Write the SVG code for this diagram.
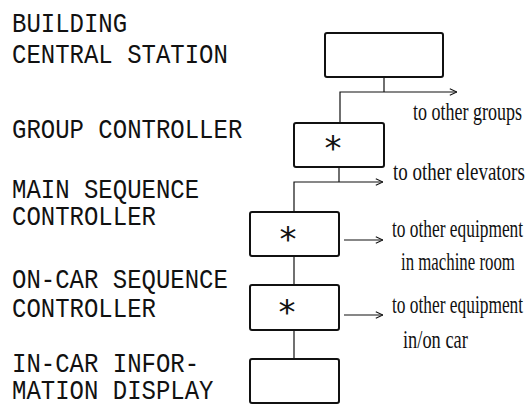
<svg xmlns="http://www.w3.org/2000/svg" width="526" height="405" viewBox="0 0 526 405">
<style>
.lbl{font-family:"Liberation Mono","DejaVu Sans Mono",monospace;font-size:28px;fill:#111;}
.note{font-family:"Liberation Serif","DejaVu Serif",serif;font-size:26px;fill:#111;}
.box{fill:#fff;stroke:#111;stroke-width:2;}
.ast{font-family:"DejaVu Sans",sans-serif;font-size:34px;fill:#111;text-anchor:middle;}
.conn{fill:none;stroke:#111;stroke-width:1.2;}
</style>
<defs>
<marker id="arr" viewBox="0 0 10 10" refX="10" refY="5" markerWidth="8" markerHeight="8" markerUnits="userSpaceOnUse" orient="auto">
<path d="M1,1 L10,5 L1,9" fill="none" stroke="#111" stroke-width="1.3"/>
</marker>
</defs>
<g id="labels">
<text class="lbl" transform="translate(12,0) scale(0.857,1)"><tspan x="0" y="32">BUILDING</tspan><tspan x="0" y="63">CENTRAL STATION</tspan></text>
<text class="lbl" transform="translate(12,0) scale(0.857,1)"><tspan x="0" y="138">GROUP CONTROLLER</tspan></text>
<text class="lbl" transform="translate(12,0) scale(0.857,1)"><tspan x="0" y="198">MAIN SEQUENCE</tspan><tspan x="0" y="225">CONTROLLER</tspan></text>
<text class="lbl" transform="translate(12,0) scale(0.857,1)"><tspan x="0" y="288">ON-CAR SEQUENCE</tspan><tspan x="0" y="317">CONTROLLER</tspan></text>
<text class="lbl" transform="translate(12,0) scale(0.857,1)"><tspan x="0" y="372">IN-CAR INFOR-</tspan><tspan x="0" y="399">MATION DISPLAY</tspan></text>
</g>
<g id="connectors">
<path class="conn" d="M384,77 V92 M340,123 V92 H457" marker-end="url(#arr)"/>
<path class="conn" d="M339,167 V182 M294,212 V182 H383" marker-end="url(#arr)"/>
<path class="conn" d="M344,240 H383" marker-end="url(#arr)"/>
<path class="conn" d="M294,256 V285"/>
<path class="conn" d="M344,315 H383" marker-end="url(#arr)"/>
<path class="conn" d="M294,330 V359"/>
</g>
<g id="node-central-station">
<rect class="box" x="325" y="33" width="118" height="44" rx="2"/>
</g>
<g id="node-group-controller">
<rect class="box" x="294" y="123" width="90" height="44" rx="2"/>
<text class="ast" x="333" y="160">*</text>
</g>
<g id="node-main-sequence">
<rect class="box" x="250" y="212" width="89" height="44" rx="2"/>
<text class="ast" x="288" y="251">*</text>
</g>
<g id="node-on-car-sequence">
<rect class="box" x="250" y="285" width="89" height="45" rx="2"/>
<text class="ast" x="287" y="324">*</text>
</g>
<g id="node-display">
<rect class="box" x="250" y="359" width="89" height="44" rx="2"/>
</g>
<g id="notes">
<text class="note" transform="translate(413,120) scale(0.69,1)" x="0" y="0" textLength="158" lengthAdjust="spacingAndGlyphs">to other groups</text>
<text class="note" transform="translate(393,180) scale(0.69,1)" x="0" y="0" textLength="191" lengthAdjust="spacingAndGlyphs">to other elevators</text>
<text class="note" transform="translate(392,237) scale(0.69,1)" x="0" y="0" textLength="190" lengthAdjust="spacingAndGlyphs">to other equipment</text>
<text class="note" transform="translate(401,270) scale(0.69,1)" x="0" y="0" textLength="165" lengthAdjust="spacingAndGlyphs">in machine room</text>
<text class="note" transform="translate(392,313) scale(0.69,1)" x="0" y="0" textLength="190" lengthAdjust="spacingAndGlyphs">to other equipment</text>
<text class="note" transform="translate(403,348) scale(0.69,1)" x="0" y="0" textLength="94" lengthAdjust="spacingAndGlyphs">in/on car</text>
</g>
</svg>
